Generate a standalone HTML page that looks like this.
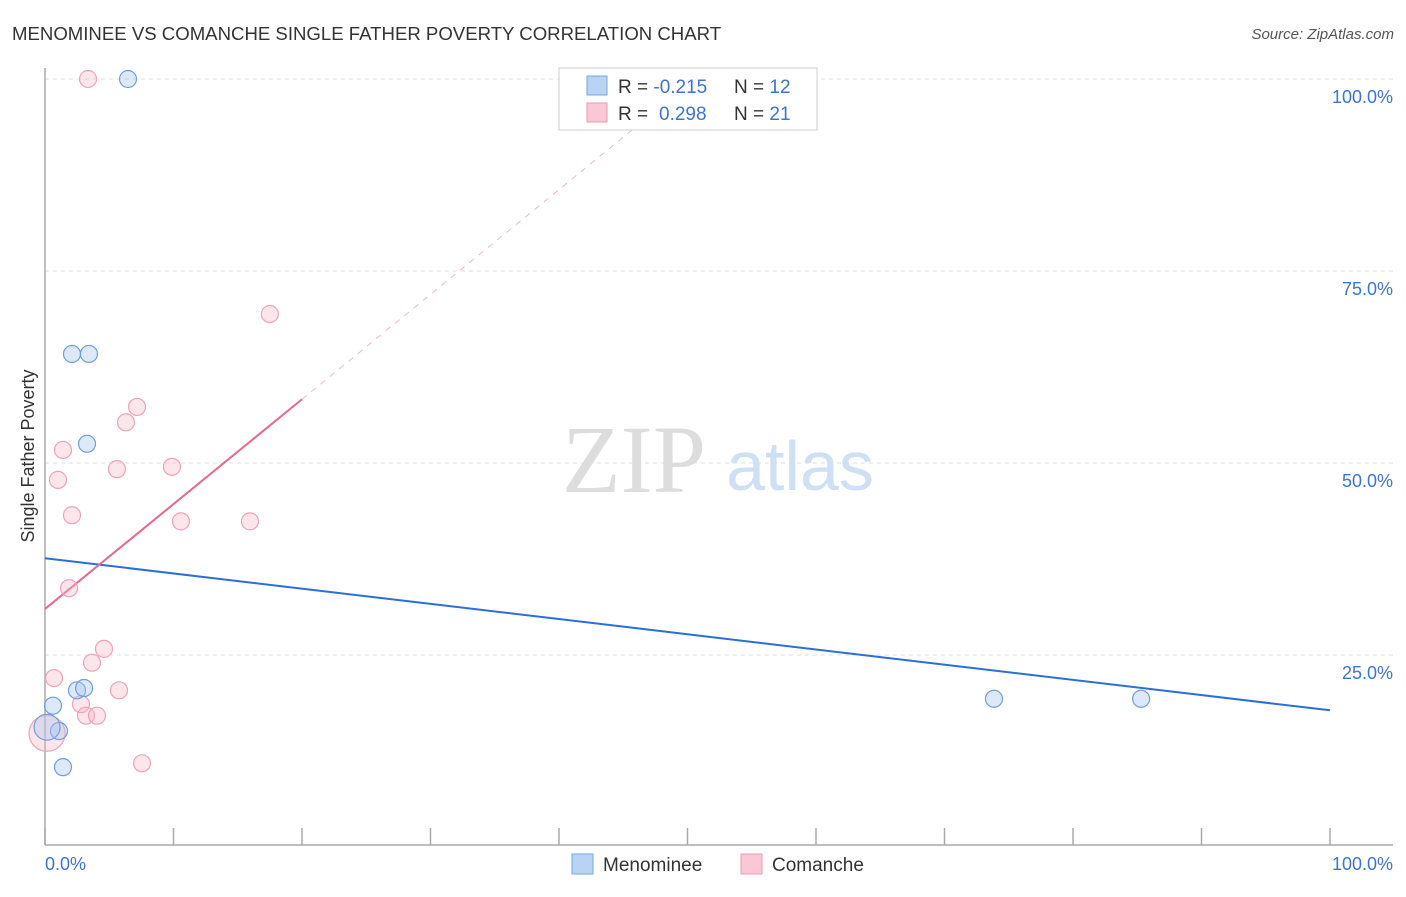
<!DOCTYPE html>
<html><head><meta charset="utf-8"><style>
body{margin:0;background:#fff;font-family:"Liberation Sans",sans-serif;}
svg text{font-family:"Liberation Sans",sans-serif;}
svg text.serif{font-family:"Liberation Serif",serif;}
</style></head><body>
<svg id="c" width="1406" height="892">
<text x="12" y="40" font-size="18.6" fill="#333">MENOMINEE VS COMANCHE SINGLE FATHER POVERTY CORRELATION CHART</text>
<text x="1394" y="39" font-size="15" fill="#555" font-style="italic" text-anchor="end">Source: ZipAtlas.com</text>
<text class="serif" x="634" y="492" font-size="96" fill="#ddd" text-anchor="middle">ZIP</text>
<text x="800" y="490" font-size="70" fill="#cfe0f4" text-anchor="middle">atlas</text>
<text transform="translate(34,456) rotate(-90)" font-size="18" fill="#333" text-anchor="middle">Single Father Poverty</text>
<g id="grid"></g><g id="marks"></g>
<g>
<rect x="559" y="68" width="258" height="62" fill="#fff" stroke="#ccc"/>
<rect x="587" y="76" width="20" height="19" fill="#b8d3f4" stroke="#7aa7e0"/>
<rect x="587" y="103" width="20" height="19" fill="#fbc6d5" stroke="#eb9ab2"/>
<text x="618" y="93" font-size="19" fill="#333">R = <tspan fill="#3b74d4">-0.215</tspan><tspan x="734">N = </tspan><tspan fill="#3b74d4">12</tspan></text>
<text x="618" y="120" font-size="19" fill="#333">R = <tspan x="659" fill="#3b74d4">0.298</tspan><tspan x="734">N = </tspan><tspan fill="#3b74d4">21</tspan></text>
</g>
<g>
<rect x="572" y="854" width="21" height="20" fill="#b8d3f4" stroke="#7aa7e0"/>
<text x="603" y="871" font-size="19" fill="#333">Menominee</text>
<rect x="741" y="854" width="21" height="20" fill="#fbc6d5" stroke="#eb9ab2"/>
<text x="772" y="871" font-size="19" fill="#333">Comanche</text>
</g>
</svg>
<script>
const yTicks=[100,75,50,25];
const yTickLabels=["100.0%","75.0%","50.0%","25.0%"];
const menomineeX=[6.46,2.1,3.42,3.27,2.49,3.04,0.62,1.09,0.16,1.4,73.85,85.3];
const menomineeY=[100,64.2,64.2,52.5,20.4,20.7,18.4,15.1,15.6,10.4,19.3,19.3];
const comancheX=[3.35,17.5,7.16,6.3,1.4,5.6,9.88,1.01,2.1,10.58,15.95,1.87,4.59,3.66,0.7,5.76,2.8,3.19,4.05,7.55,0.16];
const comancheY=[100,69.4,57.3,55.3,51.7,49.2,49.5,47.8,43.2,42.4,42.4,33.7,25.8,24.0,22.0,20.4,18.6,17.1,17.1,10.9,14.8];
const menomineeTrend=[37.6,17.8];
const comancheTrend=[31.0,58.3];
const X=v=>45+v*12.85, Y=v=>847-v*7.68;
const NS="http://www.w3.org/2000/svg";
const g=document.getElementById('grid'), m=document.getElementById('marks');
function mk(p,t,a){const e=document.createElementNS(NS,t);for(const k in a)e.setAttribute(k,a[k]);p.appendChild(e);return e;}
yTicks.forEach((t,i)=>{
 const l=mk(g,'line',{x1:45,x2:1395,y1:Y(t),y2:Y(t),stroke:'#ddd','stroke-dasharray':'4,4'});
 
 
 const tx=mk(g,'text',{x:1393,y:Y(t)+24,'font-size':18,fill:'#3b74d4','text-anchor':'end'});
 tx.textContent=yTickLabels[i];
 
 
});
mk(g,'line',{x1:45,x2:45,y1:68,y2:845,stroke:'#aaa','stroke-width':1.5});
mk(g,'line',{x1:45,x2:1393,y1:845,y2:845,stroke:'#aaa','stroke-width':1.5});
for(let i=0;i<=10;i++){mk(g,'line',{x1:X(i*10),x2:X(i*10),y1:828,y2:845,stroke:'#aaa','stroke-width':1.5});}
const xl=mk(g,'text',{x:45,y:870,'font-size':18,fill:'#3b74d4'});xl.textContent='0.0%';


const xr=mk(g,'text',{x:1393,y:870,'font-size':18,fill:'#3b74d4','text-anchor':'end'});xr.textContent='100.0%';


const bl=mk(m,'line',{x1:X(0),y1:Y(menomineeTrend[0]),x2:X(100),y2:Y(menomineeTrend[1]),stroke:'#2a6fd6','stroke-width':2});


const slope=(comancheTrend[1]-comancheTrend[0])/20, xEnd=(100-comancheTrend[0])/slope;
const pd=mk(m,'line',{x1:X(20),y1:Y(comancheTrend[1]),x2:X(xEnd*0.92),y2:Y(comancheTrend[0]+slope*xEnd*0.92),stroke:'#f0b8c8','stroke-width':1,'stroke-dasharray':'6,6'});


const pl=mk(m,'line',{x1:X(0),y1:Y(comancheTrend[0]),x2:X(20),y2:Y(comancheTrend[1]),stroke:'#e8678f','stroke-width':2});


comancheX.forEach((x,i)=>{
 const c=mk(m,'circle',{cx:X(x),cy:Y(comancheY[i]),r:i==20?18:8.5,fill:'rgba(248,180,200,0.35)',stroke:'#eda3b8','stroke-width':1.2});
 
 
});
menomineeX.forEach((x,i)=>{
 const c=mk(m,'circle',{cx:X(x),cy:Y(menomineeY[i]),r:i==8?13:8.5,fill:'rgba(170,200,240,0.4)',stroke:'#6f9fe0','stroke-width':1.2});
 
 
});
</script>
</body></html>
